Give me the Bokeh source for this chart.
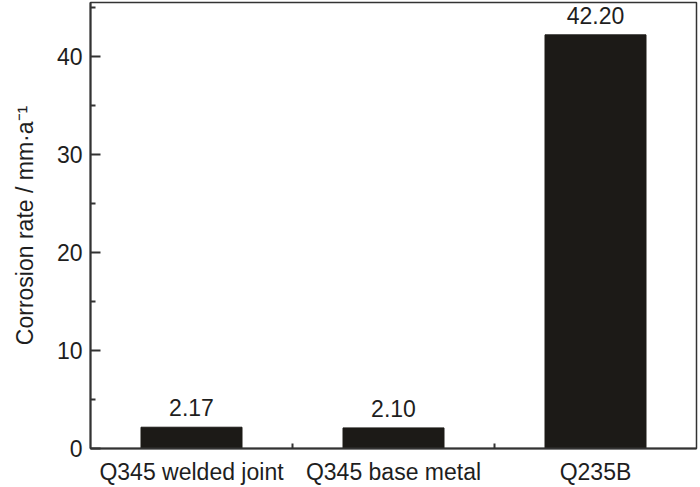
from bokeh.plotting import figure
from bokeh.models import ColumnDataSource, FixedTicker, LabelSet, Range1d
from bokeh.core.properties import value
from bokeh.embed import file_html
from bokeh.resources import INLINE

categories = ["Q345 welded joint", "Q345 base metal", "Q235B"]
rates = [2.17, 2.10, 42.20]
y_ticks = [0, 10, 20, 30, 40]
y_minor = [5, 15, 25, 35, 45]
x_minor = [1, 2]

positions = [i + 0.5 for i in range(len(categories))]
source = ColumnDataSource(dict(
    x=positions,
    top=rates,
    label=["%.2f" % r for r in rates],
))

FONT = "Liberation Sans"
TXT = "#1e1e1e"
AX = "#333333"

p = figure(width=700, height=487, output_backend="svg", toolbar_location=None,
           x_range=Range1d(0, len(categories)), y_range=Range1d(0, 45.5),
           min_border_left=90, min_border_right=4, min_border_top=2, min_border_bottom=39)
p.background_fill_color = "white"
p.border_fill_color = "white"
p.outline_line_color = AX
p.outline_line_width = 1.5
p.grid.visible = False

p.vbar(x="x", top="top", width=0.5, bottom=0, source=source,
       fill_color="#1c1a17", line_color="#1c1a17")

labels = LabelSet(x="x", y="top", text="label", source=source,
                  text_align="center", text_baseline="alphabetic", y_offset=11,
                  text_font=value(FONT), text_font_size="23px", text_color=TXT)
p.add_layout(labels)

xa = p.xaxis[0]
xa.ticker = FixedTicker(ticks=positions, minor_ticks=x_minor)
xa.major_label_overrides = {pos: cat for pos, cat in zip(positions, categories)}
xa.major_tick_in = 0
xa.major_tick_out = 0
xa.minor_tick_in = 5
xa.minor_tick_out = 0

ya = p.yaxis[0]
ya.ticker = FixedTicker(ticks=y_ticks, minor_ticks=y_minor)
ya.major_tick_in = 10
ya.major_tick_out = 0
ya.minor_tick_in = 5
ya.minor_tick_out = 0
ya.axis_label = "Corrosion rate / mm·a⁻¹"
ya.axis_label_standoff = 16

for ax in (xa, ya):
    ax.axis_line_color = AX
    ax.axis_line_width = 2
    ax.major_tick_line_color = AX
    ax.major_tick_line_width = 2
    ax.minor_tick_line_color = AX
    ax.minor_tick_line_width = 2
    ax.major_label_text_font = FONT
    ax.major_label_text_font_size = "23px"
    ax.major_label_text_color = TXT
    ax.axis_label_text_font = FONT
    ax.axis_label_text_font_size = "23px"
    ax.axis_label_text_font_style = "normal"
    ax.axis_label_text_color = TXT
xa.major_label_standoff = 10
ya.major_label_standoff = 8

html = file_html(p, INLINE)
html = html.replace("<head>", "<head><style>body{margin:0;}</style>", 1)
open("out.html", "w").write(html)
